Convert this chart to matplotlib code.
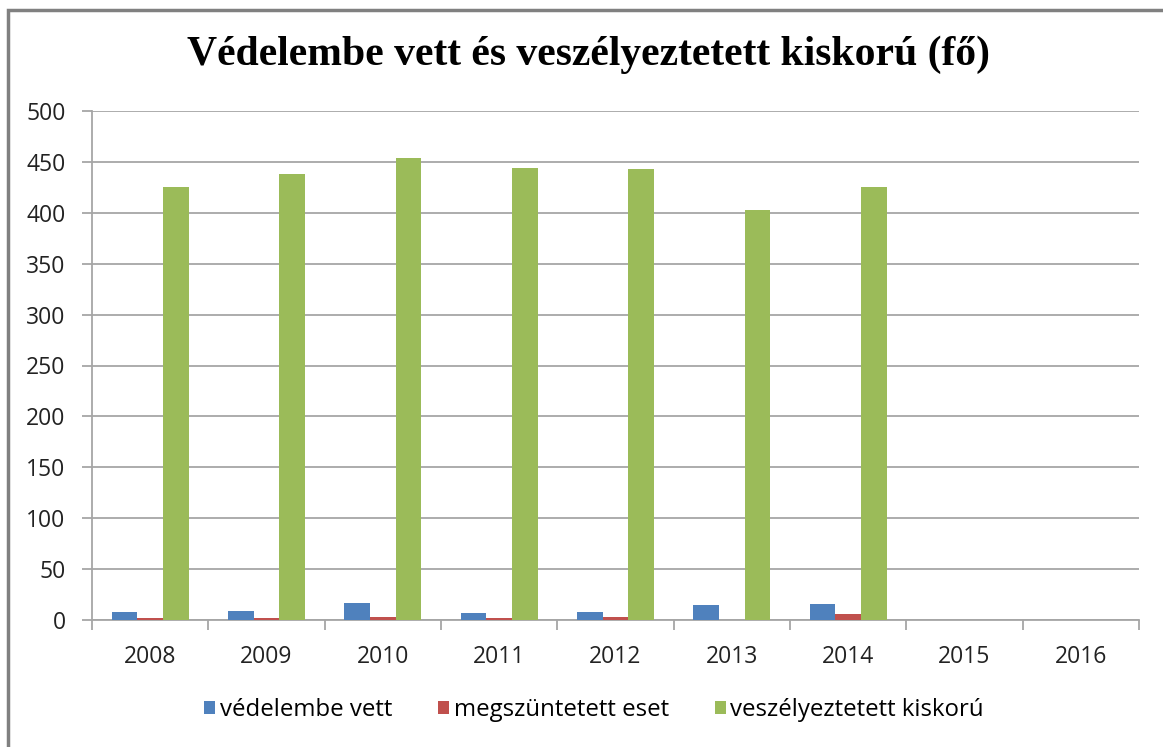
import matplotlib.pyplot as plt
import numpy as np
from matplotlib.patches import Rectangle

years = ['2008', '2009', '2010', '2011', '2012', '2013', '2014', '2015', '2016']
vedelembe = [8, 9, 17, 6.5, 8, 14.5, 16, np.nan, np.nan]
megszuntetett = [2, 2, 3, 2, 3, 0, 6, np.nan, np.nan]
veszelyeztetett = [425, 438, 454, 444, 443, 403, 425, np.nan, np.nan]

series_names = ['védelembe vett', 'megszüntetett eset', 'veszélyeztetett kiskorú']
colors = ['#4F81BD', '#C0504D', '#9BBB59']

plt.rcParams['font.family'] = ['Open Sans', 'DejaVu Sans']

fig = plt.figure(figsize=(11.63, 7.47), dpi=100)
ax = fig.add_axes([92/1163, 1 - 620/747, (1139-92)/1163, (620-111)/747])

x = np.arange(len(years))
w = 0.22
for i, (vals, name, c) in enumerate(zip([vedelembe, megszuntetett, veszelyeztetett], series_names, colors)):
    ax.bar(x + (i - 1) * w, vals, width=w, color=c, label=name, zorder=3)

ax.set_xlim(-0.5, len(years) - 0.5)
ax.set_ylim(0, 500)
ax.set_yticks(np.arange(0, 501, 50))
ax.yaxis.grid(True, color='#a6a6a6', linewidth=1.3, zorder=0)

for s in ['top', 'right']:
    ax.spines[s].set_visible(False)
for s in ['left', 'bottom']:
    ax.spines[s].set_color('#a6a6a6')
    ax.spines[s].set_linewidth(1.3)

ax.set_xticks(x)
ax.set_xticklabels(years)
ax.set_xticks(np.arange(-0.5, len(years)), minor=True)
ax.tick_params(axis='x', which='major', length=0, pad=18, labelsize=16.5, labelcolor='#222222')
ax.tick_params(axis='x', which='minor', length=7, color='#a6a6a6', width=1.3)
ax.tick_params(axis='y', length=7, color='#a6a6a6', width=1.3, pad=12, labelsize=16.5, labelcolor='#222222')

fig.text(0.506, 1 - 55/747, 'Védelembe vett és veszélyeztetett kiskorú (fő)',
         ha='center', va='center', fontsize=30, fontweight='bold',
         family=['Liberation Serif', 'DejaVu Serif'])

leg = fig.legend(loc='center', bbox_to_anchor=(594/1163, 1 - 710/747), ncol=3, frameon=False,
                 fontsize=17.3, handlelength=0.46, handleheight=0.46, handletextpad=0.2,
                 columnspacing=1.9, borderpad=0)

fig.patches.append(Rectangle((8/1163, -0.1), 1.2, (747 - 10)/747 + 0.1,
                             transform=fig.transFigure, fill=False,
                             edgecolor='#808080', linewidth=2.5))

fig.savefig('out.png', dpi=100)
